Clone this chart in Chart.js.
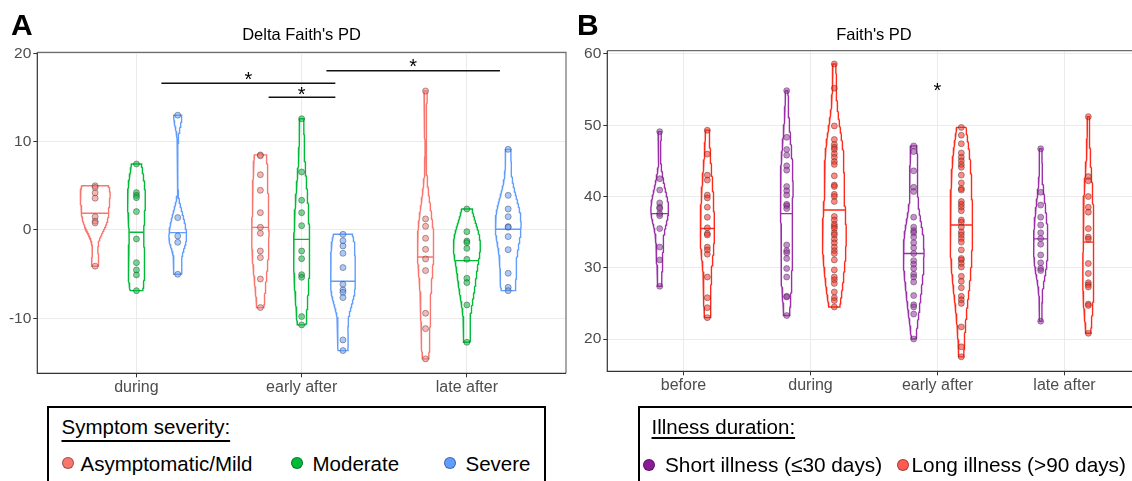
<!DOCTYPE html>
<html><head><meta charset="utf-8">
<script src="https://cdn.jsdelivr.net/npm/chart.js@4.4.0/dist/chart.umd.min.js"></script>
<style>
html,body{margin:0;padding:0;width:1132px;height:481px;overflow:hidden;background:#fff;font-family:"Liberation Sans",Arial,sans-serif;}
body{position:relative;}
canvas{position:absolute;top:0;}
#cA{left:0;}
#cB{left:570px;}
.t{position:absolute;white-space:nowrap;color:#000;line-height:1;}
.letter{font-weight:bold;font-size:30px;}
.ttl{font-size:16.5px;text-align:center;width:200px;}
.lg{font-size:20.5px;}
.box{position:absolute;border:2px solid #000;box-sizing:border-box;background:transparent;}
.dot{position:absolute;width:12px;height:12px;border-radius:50%;box-sizing:border-box;border:1px solid rgba(0,0,0,0.35);}
</style>
</head><body>
<canvas id="cA" width="580" height="400"></canvas>
<canvas id="cB" width="600" height="400"></canvas>

<div class="t letter" style="left:11px;top:9.6px;">A</div>
<div class="t letter" style="left:577px;top:9.6px;">B</div>
<div class="t ttl" style="left:201.5px;top:26px;">Delta Faith's PD</div>
<div class="t ttl" style="left:774px;top:26px;">Faith's PD</div>

<div class="box" style="left:47px;top:406px;width:499px;height:100px;"></div>
<div class="t lg" style="left:61.5px;top:417px;text-decoration:underline;text-underline-offset:6px;text-decoration-thickness:1.5px;">Symptom severity:</div>
<div class="dot" style="left:62.3px;top:457.3px;background:#F8766D;"></div>
<div class="t lg" style="left:80.5px;top:454.2px;">Asymptomatic/Mild</div>
<div class="dot" style="left:291px;top:457.3px;background:#00BA38;"></div>
<div class="t lg" style="left:312.5px;top:454.2px;">Moderate</div>
<div class="dot" style="left:444.3px;top:457.3px;background:#619CFF;"></div>
<div class="t lg" style="left:465.5px;top:454.2px;">Severe</div>

<div class="box" style="left:638px;top:406px;width:600px;height:100px;"></div>
<div class="t lg" style="left:651.5px;top:417px;text-decoration:underline;text-underline-offset:3px;text-decoration-thickness:1.5px;">Illness duration:</div>
<div class="dot" style="left:642.5px;top:459px;background:#8B1A96;"></div>
<div class="t lg" style="left:665px;top:454.5px;font-size:20.8px;">Short illness (≤30 days)</div>
<div class="dot" style="left:897px;top:459px;background:#FF5A4F;"></div>
<div class="t lg" style="left:911.5px;top:454.5px;font-size:20.8px;">Long illness (&gt;90 days)</div>

<script>
// ---------------- Panel A data: Delta Faith's PD ----------------
const catsA = ['during', 'early after', 'late after'];
const yTicksA = [-10, 0, 10, 20];
// values per category [during, early after, late after]
const aMild = [
  [5.0, 4.8, 4.2, 3.6, 1.5, 1.0, 0.8, -4.1],
  [8.5, 8.4, 6.26, 4.49, 1.96, 0.30, -0.38, -2.38, -3.13, -5.55, -8.79],
  [15.74, 1.25, 0.42, -0.94, -2.19, -3.28, -4.60, -9.43, -11.17, -14.6]
];
const aModerate = [
  [7.47, 4.23, 3.92, 3.66, 2.08, -1.02, -3.70, -4.53, -5.09, -6.87],
  [12.6, 6.57, 3.36, 1.96, 0.49, -2.38, -3.25, -5.06, -5.36, -9.81, -10.75],
  [2.38, -0.19, -1.25, -1.43, -2.08, -3.32, -5.47, -5.96, -8.49, -12.72]
];
const aSevere = [
  [13.0, 1.40, -0.68, -1.40, -5.02],
  [-0.49, -1.21, -1.81, -2.64, -4.26, -6.15, -6.79, -7.06, -7.66, -12.45, -13.66],
  [9.13, 3.92, 2.38, 1.51, 0.38, 0.30, -0.75, -2.23, -4.90, -6.49, -6.87]
];
const aMildMed = [1.9, 0.3, -3.06];
const aModerateMed = [-0.26, -1.06, -3.47];
const aSevereMed = [-0.3, -5.81, 0.08];
// significance brackets
const bracketX1 = [1.151, 1.80, 2.15];
const bracketX2 = [2.204, 2.204, 3.20];
const bracketY = [16.61, 15.03, 18.04];
const starXA = [1.678, 2.0, 2.675];
const starYA = [17.55, 15.85, 19.03];

// ---------------- Panel B data: Faith's PD ----------------
const catsB = ['before', 'during', 'early after', 'late after'];
const yTicksB = [20, 30, 40, 50, 60];
const bShort = [
  [49.1, 42.5, 40.9, 39.1, 38.5, 38.3, 37.6, 37.3, 35.5, 32.9, 31.1, 27.4],
  [54.85, 48.3, 46.6, 45.8, 44.3, 43.7, 41.4, 40.8, 40.2, 38.9, 38.7, 38.3, 33.2, 32.4, 32.1, 31.3, 29.9, 28.7, 26.0, 25.9, 23.3],
  [47.1, 46.3, 43.6, 41.3, 40.7, 37.1, 35.7, 35.2, 34.9, 34.3, 33.5, 32.8, 32.0, 31.0, 30.5, 29.9, 29.1, 28.7, 28.0, 26.1, 24.8, 24.5, 23.5, 20.0],
  [46.7, 40.6, 38.8, 37.1, 36.0, 34.9, 34.1, 33.3, 31.8, 30.7, 29.9, 29.6, 22.5]
];
const bLong = [
  [49.3, 45.95, 43.0, 42.3, 40.2, 39.8, 38.5, 37.1, 35.6, 34.8, 34.6, 32.9, 32.5, 31.9, 28.7, 25.8, 24.4, 23.0],
  [58.6, 55.2, 49.9, 48.0, 47.3, 46.9, 46.6, 46.0, 45.5, 44.9, 44.5, 42.9, 41.6, 41.4, 40.3, 40.0, 39.3, 37.2, 36.7, 36.1, 35.8, 35.5, 34.9, 34.6, 34.0, 33.5, 32.9, 32.4, 32.0, 31.1, 29.7, 28.7, 28.3, 27.8, 26.6, 25.8, 25.4, 24.5],
  [49.7, 48.6, 47.4, 46.1, 45.5, 45.0, 44.5, 44.1, 43.0, 41.9, 41.1, 40.9, 39.3, 38.9, 38.5, 38.0, 36.7, 36.4, 35.7, 35.0, 34.6, 34.1, 33.6, 32.5, 31.3, 31.1, 30.6, 30.1, 28.8, 28.1, 27.2, 26.0, 25.5, 25.0, 21.7, 18.9, 17.5],
  [51.2, 42.8, 42.2, 40.0, 38.5, 37.8, 35.5, 34.3, 34.0, 30.6, 29.2, 27.9, 27.6, 27.3, 24.9, 24.7, 20.8]
];
const bShortMed = [37.6, 37.6, 32.0, 34.05];
const bLongMed = [35.5, 38.1, 36.0, 33.6];
const starXB = [3.0];
const starYB = [55.55];

// ---------------- helpers ----------------
function kde(vals) {
  const s = [...vals].sort((a, b) => a - b), n = s.length;
  const mean = s.reduce((a, b) => a + b, 0) / n;
  const sd = Math.sqrt(s.reduce((a, b) => a + (b - mean) ** 2, 0) / (n - 1));
  const q = p => { const h = (n - 1) * p, lo = Math.floor(h), hi = Math.ceil(h); return s[lo] + (h - lo) * (s[hi] - s[lo]); };
  const iqr = q(0.75) - q(0.25);
  let lo = Math.min(sd, iqr / 1.34); if (!(lo > 0)) lo = sd || 1;
  const bw = 0.9 * lo * Math.pow(n, -0.2);
  const N = 160, ys = [], ds = [];
  for (let i = 0; i < N; i++) {
    const y = s[0] + (s[n - 1] - s[0]) * i / (N - 1);
    let d = 0; for (const v of s) { const z = (y - v) / bw; d += Math.exp(-0.5 * z * z); }
    ys.push(y); ds.push(d / (n * bw * Math.sqrt(2 * Math.PI)));
  }
  return { ys, ds, n, max: Math.max(...ds) };
}
function densAt(k, y) {
  const ys = k.ys, ds = k.ds;
  if (y <= ys[0]) return ds[0];
  for (let i = 1; i < ys.length; i++) if (y <= ys[i]) { const t = (y - ys[i - 1]) / (ys[i] - ys[i - 1]); return ds[i - 1] + t * (ds[i] - ds[i - 1]); }
  return ds[ds.length - 1];
}
function rgba(hex, a) { const v = parseInt(hex.slice(1), 16); return `rgba(${v >> 16},${(v >> 8) & 255},${v & 255},${a})`; }

function buildDatasets(groups, offsets, W) {
  const all = [];
  groups.forEach(g => g.vals.forEach(v => all.push(kde(v))));
  const maxD = Math.max(...all.map(k => k.max));
  const maxN = Math.max(...all.map(k => k.n));
  const viol = [], meds = [], pts = [];
  groups.forEach((g, gi) => {
    g.vals.forEach((vals, ci) => {
      const k = kde(vals);
      const c = ci + 1 + offsets[gi];
      const hw = d => d / maxD * k.n / maxN * W / 2;
      const poly = [];
      for (let i = 0; i < k.ys.length; i++) poly.push({ x: c + hw(k.ds[i]), y: k.ys[i] });
      for (let i = k.ys.length - 1; i >= 0; i--) poly.push({ x: c - hw(k.ds[i]), y: k.ys[i] });
      poly.push(poly[0]);
      viol.push({ type: 'line', data: poly, showLine: true, borderColor: g.line, borderWidth: 1.4, pointRadius: 0, fill: false, tension: 0, order: 3 });
      const m = g.med[ci], hm = hw(densAt(k, m));
      meds.push({ type: 'line', data: [{ x: c - hm, y: m }, { x: c + hm, y: m }], showLine: true, borderColor: g.line, borderWidth: 1.4, pointRadius: 0, fill: false, order: 2 });
      pts.push({ type: 'scatter', data: vals.map(v => ({ x: c, y: v })), pointRadius: 3, pointHoverRadius: 3,
        backgroundColor: rgba(g.fill, 0.55), borderColor: 'rgba(40,40,40,0.5)', borderWidth: 0.8, order: 1 });
    });
  });
  return [...viol, ...meds, ...pts];
}

const framePlugin = {
  id: 'frame',
  beforeDatasetsDraw(chart) {
    const { left, top, right, bottom } = chart.chartArea, ctx = chart.ctx;
    ctx.save();
    ctx.lineWidth = 1.2;
    ctx.strokeStyle = '#6e6e6e';
    ctx.beginPath(); ctx.moveTo(left, top); ctx.lineTo(right, top); ctx.lineTo(right, bottom); ctx.stroke();
    ctx.strokeStyle = '#333';
    ctx.beginPath(); ctx.moveTo(left, top); ctx.lineTo(left, bottom); ctx.lineTo(right, bottom); ctx.stroke();
    ctx.restore();
  }
};
const starPlugin = {
  id: 'stars',
  afterDatasetsDraw(chart, args, opts) {
    const ctx = chart.ctx, xs = chart.scales.x, ys = chart.scales.y;
    ctx.save();
    ctx.fillStyle = '#000'; ctx.font = '20px "Liberation Sans", Arial, sans-serif';
    ctx.textAlign = 'center'; ctx.textBaseline = 'alphabetic';
    opts.xs.forEach((x, i) => ctx.fillText('*', xs.getPixelForValue(x), ys.getPixelForValue(opts.ys[i]) + 0.57 * 20));
    ctx.restore();
  }
};

function makeChart(id, cfg) {
  const tickColor = '#4D4D4D';
  return new Chart(document.getElementById(id), {
    type: 'scatter',
    data: { datasets: cfg.datasets },
    plugins: [framePlugin, starPlugin],
    options: {
      responsive: false, animation: false, devicePixelRatio: 1,
      layout: { padding: cfg.padding },
      plugins: { legend: { display: false }, tooltip: { enabled: false }, stars: { xs: cfg.starX, ys: cfg.starY } },
      events: [],
      scales: {
        x: {
          type: 'linear', min: cfg.xMin, max: cfg.xMax,
          afterBuildTicks: s => { s.ticks = cfg.cats.map((c, i) => ({ value: i + 1 })); },
          afterFit: s => { s.height = cfg.xH; },
          ticks: { callback: v => cfg.cats[Math.round(v) - 1], color: tickColor, font: { size: 16, family: '"Liberation Sans", Arial, sans-serif' }, padding: 1, maxRotation: 0, autoSkip: false },
          grid: { color: '#EBEBEB', lineWidth: 1, tickColor: '#333', tickLength: 4 },
          border: { display: false }
        },
        y: {
          type: 'linear', min: cfg.yMin, max: cfg.yMax,
          afterBuildTicks: s => { s.ticks = cfg.yTicks.map(v => ({ value: v })); },
          afterFit: s => { s.width = cfg.yW; },
          ticks: { callback: v => String(v), color: tickColor, font: { size: 15.5, family: '"Liberation Sans", Arial, sans-serif' }, padding: 2 },
          grid: { color: '#EBEBEB', lineWidth: 1, tickColor: '#333', tickLength: 4 },
          border: { display: false }
        }
      }
    }
  });
}

// Panel A
const dsA = buildDatasets([
  { vals: aMild, med: aMildMed, line: '#F8766D', fill: '#F8766D' },
  { vals: aModerate, med: aModerateMed, line: '#00BA38', fill: '#00BA38' },
  { vals: aSevere, med: aSevereMed, line: '#619CFF', fill: '#619CFF' }
], [-0.25, 0, 0.25], 0.25);
bracketY.forEach((y, i) => dsA.push({ type: 'line', data: [{ x: bracketX1[i], y }, { x: bracketX2[i], y }], showLine: true, borderColor: '#111', borderWidth: 1.5, pointRadius: 0, fill: false, order: 0 }));
makeChart('cA', {
  datasets: dsA, cats: catsA, yTicks: yTicksA, xMin: 0.4, xMax: 3.6, yMin: -16.23, yMax: 20.12,
  padding: { left: 0, top: 52.3, right: 14, bottom: 0 }, xH: 26.7, yW: 37.3, starX: starXA, starY: starYA
});

// Panel B
const dsB = buildDatasets([
  { vals: bShort, med: bShortMed, line: '#9A2FA8', fill: '#9A2FA8' },
  { vals: bLong, med: bLongMed, line: '#FF2A1A', fill: '#FF2A1A' }
], [-0.1875, 0.1875], 0.44);
makeChart('cB', {
  datasets: dsB, cats: catsB, yTicks: yTicksB, xMin: 0.4, xMax: 4.6, yMin: 15.47, yMax: 60.46,
  padding: { left: 0, top: 50.7, right: 29.3, bottom: 0 }, xH: 28.7, yW: 37.3, starX: starXB, starY: starYB
});
</script>
</body></html>
